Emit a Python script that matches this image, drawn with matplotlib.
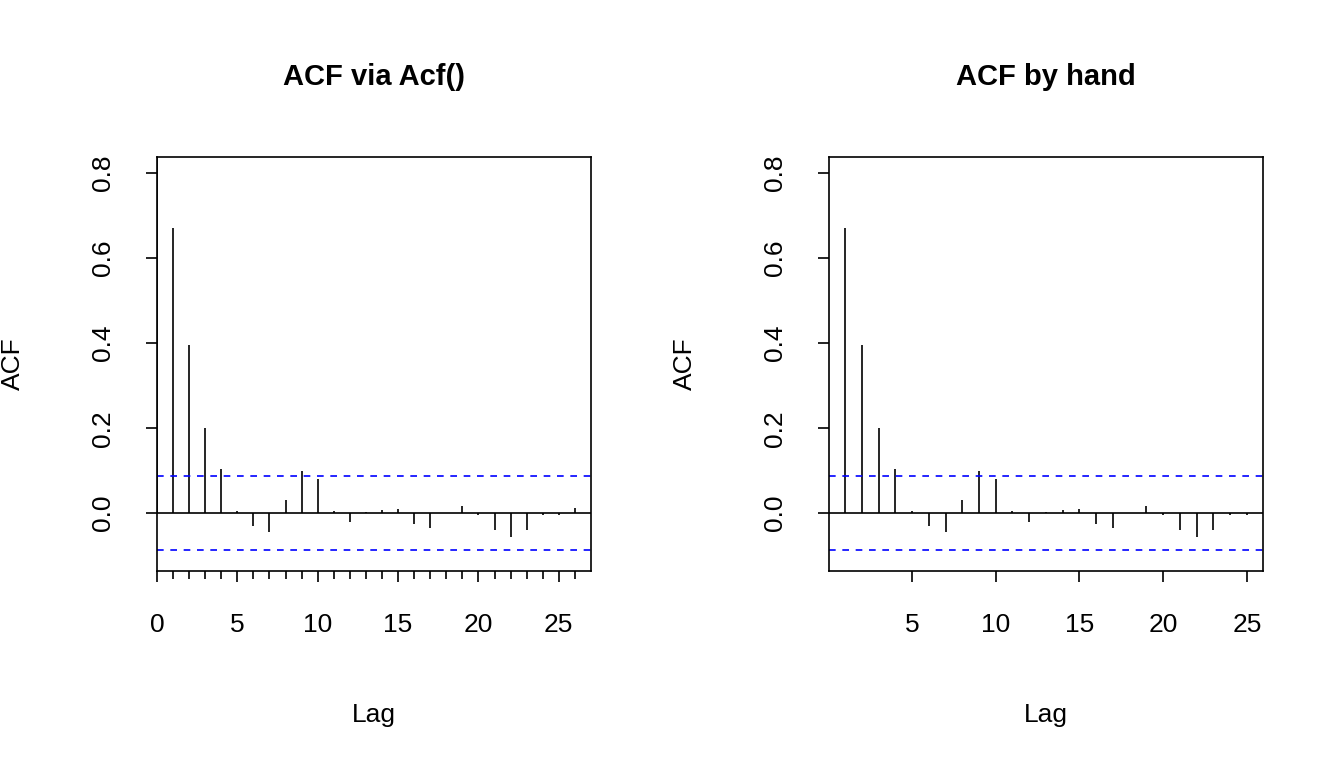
import numpy as np
import matplotlib.pyplot as plt

plt.rcParams['font.family'] = ['Liberation Sans', 'DejaVu Sans']

# acf values
lags = list(range(0, 27))
acf_vals = [1.0, 0.67, 0.395, 0.20, 0.105, 0.005, -0.03, -0.045, 0.03, 0.10,
            0.08, 0.005, -0.02, 0.002, 0.008, 0.01, -0.025, -0.035, 0.0, 0.018,
            -0.005, -0.04, -0.057, -0.04, -0.005, -0.005, 0.012]
ci = 0.087

fig = plt.figure(figsize=(13.44, 7.68), dpi=100)

def panel(rect, x, y, title, xlim, xticks, minor):
    ax = fig.add_axes(rect)
    ax.vlines(x, 0, y, color='black', lw=1.2)
    ax.axhline(0, color='black', lw=1.2)
    ax.axhline(ci, color='blue', ls=(0, (4, 4)), lw=1.2)
    ax.axhline(-ci, color='blue', ls=(0, (4, 4)), lw=1.2)
    ax.set_xlim(*xlim)
    ax.set_ylim(-0.136, 0.838)
    ax.set_xticks(xticks)
    if minor:
        ax.set_xticks(lags, minor=True)
        ax.tick_params(axis='x', which='minor', length=6, width=1.2)
    ax.set_yticks([0.0, 0.2, 0.4, 0.6, 0.8])
    ax.set_yticklabels(['0.0', '0.2', '0.4', '0.6', '0.8'], rotation=90, va='center')
    ax.tick_params(labelsize=19, length=8, width=1.2)
    ax.tick_params(axis='x', pad=22)
    ax.tick_params(axis='y', pad=22)
    for s in ax.spines.values():
        s.set_linewidth(1.2)
    ax.set_xlabel('Lag', fontsize=19, labelpad=48)
    ax.set_ylabel('ACF', fontsize=19, labelpad=48)
    ax.set_title(title, fontsize=21, fontweight='bold', pad=52)
    return ax

panel([0.1168, 0.2565, 0.3229, 0.539], lags, acf_vals, 'ACF via Acf()',
      (0, 27.0), [0, 5, 10, 15, 20, 25], True)
panel([0.6168, 0.2565, 0.3229, 0.539], lags[1:26], acf_vals[1:26], 'ACF by hand',
      (0.04, 25.96), [5, 10, 15, 20, 25], False)

fig.savefig('out.png', dpi=100)
